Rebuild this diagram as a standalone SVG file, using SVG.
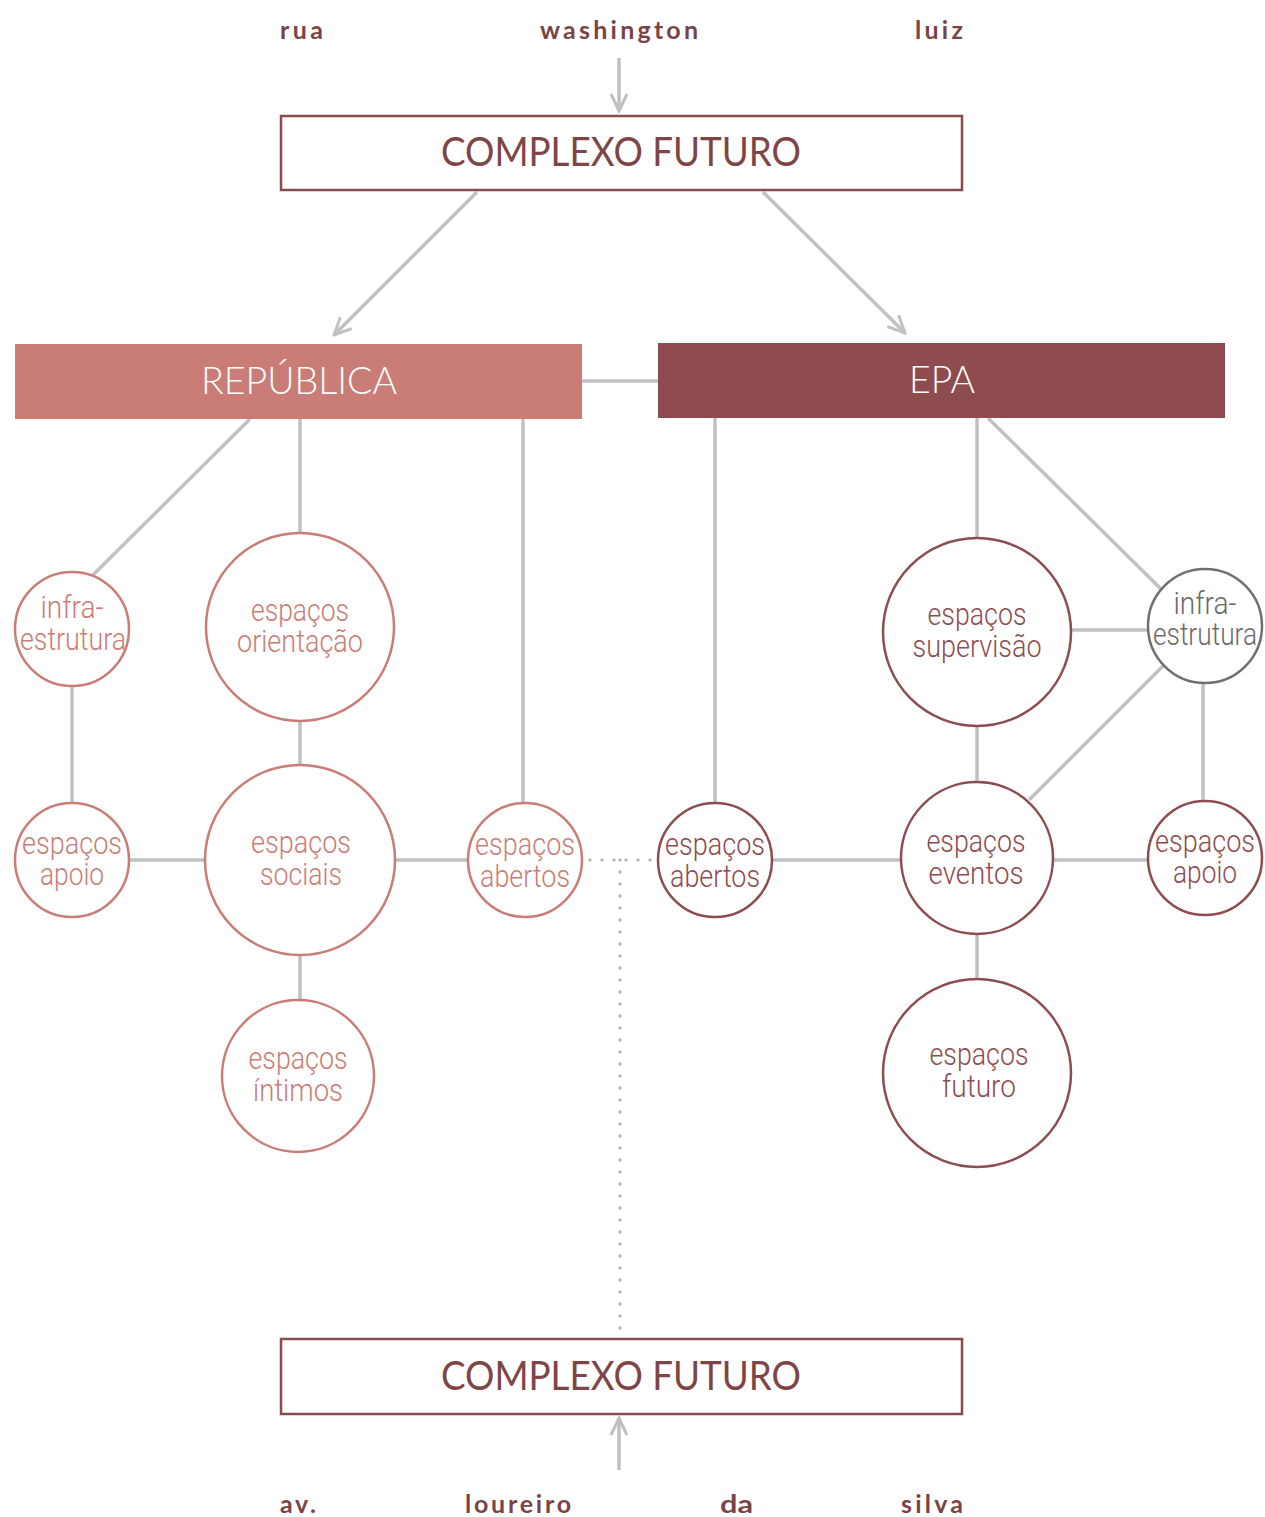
<svg xmlns="http://www.w3.org/2000/svg" width="1265" height="1517" viewBox="0 0 1265 1517">
<defs>
<marker id="arr" viewBox="0 0 22 22" refX="20" refY="11" markerWidth="22" markerHeight="22" markerUnits="userSpaceOnUse" orient="auto">
<path d="M3,3 L20,11 L3,19" fill="none" stroke="#c0c1c4" stroke-width="3"/>
</marker>
<style>
.street{font-family:Lato,"Liberation Sans",sans-serif;font-weight:700;font-size:25px;fill:#7a4446;}
.title{font-family:Lato,"Liberation Sans",sans-serif;font-weight:400;font-size:40px;fill:#7e4547;text-anchor:middle;}
.head{font-family:Lato,"Liberation Sans",sans-serif;font-weight:300;font-size:37px;fill:#ffffff;text-anchor:middle;}
.lab{font-family:Roboto,"Liberation Sans",sans-serif;font-weight:300;font-size:32px;text-anchor:middle;}
.rep{fill:#c97d76;}
.epa{fill:#8e4c50;}
.gry{fill:#6a6a6a;}
.cr{fill:#ffffff;stroke:#c97d76;stroke-width:2.5;}
.ce{fill:#ffffff;stroke:#8e4c50;stroke-width:2.5;}
.cg{fill:#ffffff;stroke:#6f6f6f;stroke-width:2.5;}
.box{fill:#ffffff;stroke:#8b4a4c;stroke-width:2.5;}
.ln{stroke:#c0c1c4;stroke-width:3.5;fill:none;}
.dot{stroke:#b8b9bc;stroke-width:3.5;fill:none;stroke-linecap:round;stroke-dasharray:0 12;}
</style>
</defs>

<g id="connectors">
<line class="ln" x1="619" y1="58" x2="619" y2="111" marker-end="url(#arr)"/>
<line class="ln" x1="477" y1="192" x2="334" y2="335" marker-end="url(#arr)"/>
<line class="ln" x1="763" y1="192" x2="905" y2="333" marker-end="url(#arr)"/>
<line class="ln" x1="619" y1="1470" x2="619" y2="1418" marker-end="url(#arr)"/>
<line class="ln" x1="582" y1="381" x2="658" y2="381"/>
<line class="ln" x1="250" y1="419" x2="92" y2="576"/>
<line class="ln" x1="300" y1="419" x2="300" y2="533"/>
<line class="ln" x1="523" y1="419" x2="523" y2="803"/>
<line class="ln" x1="72" y1="686" x2="72" y2="803"/>
<line class="ln" x1="300" y1="721" x2="300" y2="765"/>
<line class="ln" x1="129" y1="860" x2="205" y2="860"/>
<line class="ln" x1="395" y1="860" x2="468" y2="860"/>
<line class="ln" x1="300" y1="955" x2="300" y2="1000"/>
<line class="ln" x1="715" y1="418" x2="715" y2="803"/>
<line class="ln" x1="977" y1="418" x2="977" y2="538"/>
<line class="ln" x1="988" y1="418" x2="1163" y2="591"/>
<line class="ln" x1="1071" y1="630" x2="1148" y2="630"/>
<line class="ln" x1="977" y1="726" x2="977" y2="782"/>
<line class="ln" x1="1165" y1="664" x2="1029" y2="800"/>
<line class="ln" x1="1203" y1="683" x2="1203" y2="801"/>
<line class="ln" x1="772" y1="860" x2="901" y2="860"/>
<line class="ln" x1="1053" y1="860" x2="1148" y2="860"/>
<line class="ln" x1="977" y1="934" x2="977" y2="979"/>
<path class="dot" d="M590,860 H656"/>
<path class="dot" d="M620,860 V1338"/>
</g>

<g id="street-top">
<text class="street" x="280" y="39" textLength="43" lengthAdjust="spacing">rua</text>
<text class="street" x="540" y="39" textLength="158" lengthAdjust="spacing">washington</text>
<text class="street" x="915" y="39" textLength="48" lengthAdjust="spacing">luiz</text>
</g>

<g id="complexo-top">
<rect class="box" x="281" y="116" width="681" height="74"/>
<text class="title" x="621" y="166" textLength="360" lengthAdjust="spacingAndGlyphs">COMPLEXO FUTURO</text>
</g>

<g id="republica">
<rect class="rep" x="15" y="344" width="567" height="75"/>
<text class="head" x="299" y="394" textLength="196" lengthAdjust="spacingAndGlyphs">REPÚBLICA</text>
</g>

<g id="epa">
<rect class="epa" x="658" y="343" width="567" height="75"/>
<text class="head" x="942" y="393" textLength="66" lengthAdjust="spacingAndGlyphs">EPA</text>
</g>

<g id="rep-infra">
<circle class="cr" cx="72" cy="629" r="57"/>
<text class="lab rep"><tspan x="72" y="618" textLength="63" lengthAdjust="spacingAndGlyphs">infra-</tspan><tspan x="73" y="650" textLength="106" lengthAdjust="spacingAndGlyphs">estrutura</tspan></text>
</g>

<g id="rep-orientacao">
<circle class="cr" cx="300" cy="627" r="94"/>
<text class="lab rep"><tspan x="300" y="621" textLength="98" lengthAdjust="spacingAndGlyphs">espaços</tspan><tspan x="300" y="652" textLength="126" lengthAdjust="spacingAndGlyphs">orientação</tspan></text>
</g>

<g id="rep-apoio">
<circle class="cr" cx="72" cy="860" r="57"/>
<text class="lab rep"><tspan x="72" y="854" textLength="100" lengthAdjust="spacingAndGlyphs">espaços</tspan><tspan x="72" y="885" textLength="64" lengthAdjust="spacingAndGlyphs">apoio</tspan></text>
</g>

<g id="rep-sociais">
<circle class="cr" cx="300" cy="860" r="95"/>
<text class="lab rep"><tspan x="301" y="853" textLength="100" lengthAdjust="spacingAndGlyphs">espaços</tspan><tspan x="301" y="885" textLength="82" lengthAdjust="spacingAndGlyphs">sociais</tspan></text>
</g>

<g id="rep-abertos">
<circle class="cr" cx="525" cy="860" r="57"/>
<text class="lab rep"><tspan x="525" y="855" textLength="100" lengthAdjust="spacingAndGlyphs">espaços</tspan><tspan x="525" y="887" textLength="90" lengthAdjust="spacingAndGlyphs">abertos</tspan></text>
</g>

<g id="rep-intimos">
<circle class="cr" cx="298" cy="1076" r="76"/>
<text class="lab rep"><tspan x="298" y="1069" textLength="99" lengthAdjust="spacingAndGlyphs">espaços</tspan><tspan x="298" y="1101" textLength="90" lengthAdjust="spacingAndGlyphs">íntimos</tspan></text>
</g>

<g id="epa-abertos">
<circle class="ce" cx="715" cy="860" r="57"/>
<text class="lab epa"><tspan x="715" y="855" textLength="100" lengthAdjust="spacingAndGlyphs">espaços</tspan><tspan x="715" y="887" textLength="90" lengthAdjust="spacingAndGlyphs">abertos</tspan></text>
</g>

<g id="epa-supervisao">
<circle class="ce" cx="977" cy="632" r="94"/>
<text class="lab epa"><tspan x="977" y="625" textLength="99" lengthAdjust="spacingAndGlyphs">espaços</tspan><tspan x="977" y="657" textLength="129" lengthAdjust="spacingAndGlyphs">supervisão</tspan></text>
</g>

<g id="epa-infra">
<circle class="cg" cx="1205" cy="626" r="57"/>
<text class="lab gry"><tspan x="1205" y="614" textLength="63" lengthAdjust="spacingAndGlyphs">infra-</tspan><tspan x="1205" y="645" textLength="104" lengthAdjust="spacingAndGlyphs">estrutura</tspan></text>
</g>

<g id="epa-eventos">
<circle class="ce" cx="977" cy="858" r="76"/>
<text class="lab epa"><tspan x="976" y="852" textLength="99" lengthAdjust="spacingAndGlyphs">espaços</tspan><tspan x="976" y="884" textLength="95" lengthAdjust="spacingAndGlyphs">eventos</tspan></text>
</g>

<g id="epa-apoio">
<circle class="ce" cx="1205" cy="858" r="57"/>
<text class="lab epa"><tspan x="1205" y="852" textLength="100" lengthAdjust="spacingAndGlyphs">espaços</tspan><tspan x="1205" y="883" textLength="64" lengthAdjust="spacingAndGlyphs">apoio</tspan></text>
</g>

<g id="epa-futuro">
<circle class="ce" cx="977" cy="1073" r="94"/>
<text class="lab epa"><tspan x="979" y="1065" textLength="99" lengthAdjust="spacingAndGlyphs">espaços</tspan><tspan x="979" y="1097" textLength="74" lengthAdjust="spacingAndGlyphs">futuro</tspan></text>
</g>

<g id="complexo-bottom">
<rect class="box" x="281" y="1339" width="681" height="75"/>
<text class="title" x="621" y="1390" textLength="360" lengthAdjust="spacingAndGlyphs">COMPLEXO FUTURO</text>
</g>

<g id="street-bottom">
<text class="street" x="280" y="1513" textLength="36" lengthAdjust="spacing">av.</text>
<text class="street" x="465" y="1513" textLength="106" lengthAdjust="spacing">loureiro</text>
<text class="street" x="720" y="1513" textLength="33" lengthAdjust="spacingAndGlyphs">da</text>
<text class="street" x="901" y="1513" textLength="62" lengthAdjust="spacing">silva</text>
</g>
</svg>
